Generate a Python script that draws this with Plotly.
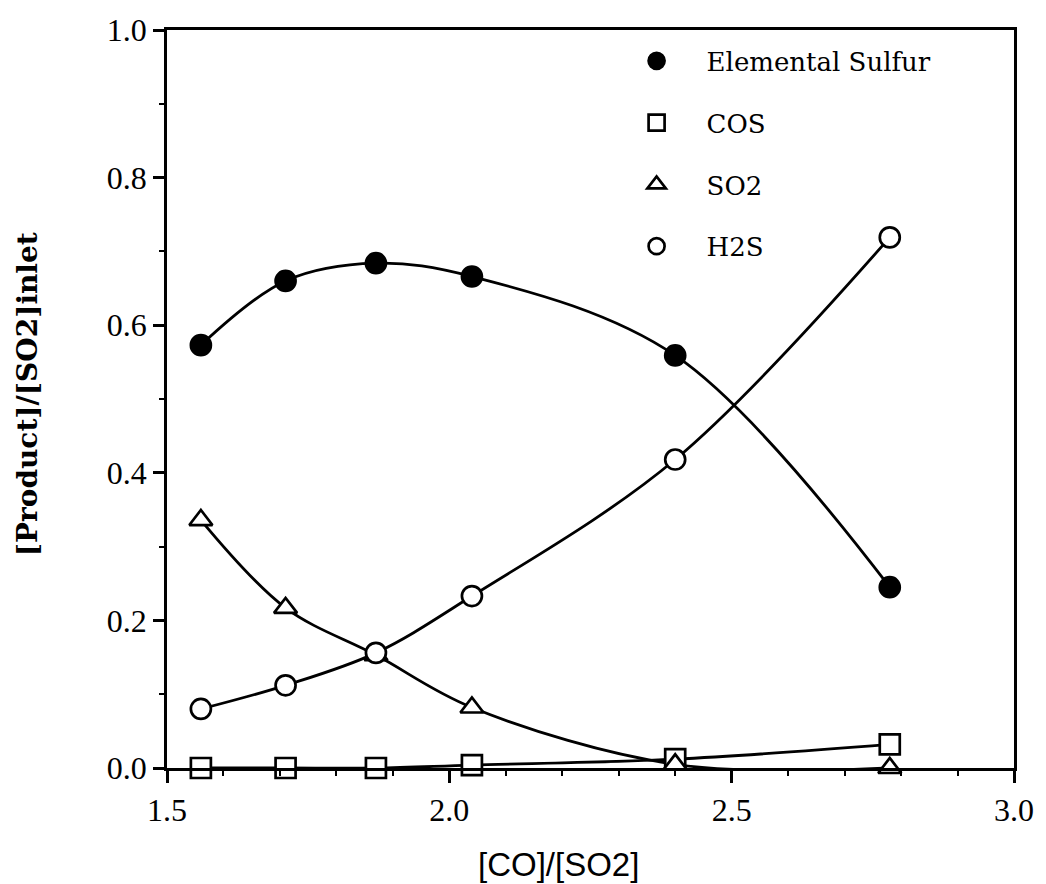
import plotly.graph_objects as go

# Data
co_so2 = [1.56, 1.71, 1.87, 2.04, 2.40, 2.78]
elemental_sulfur = [0.573, 0.660, 0.684, 0.666, 0.559, 0.245]
cos = [0.0, 0.0, 0.0, 0.004, 0.012, 0.032]
so2 = [0.336, 0.217, 0.153, 0.082, 0.005, 0.0]
h2s = [0.080, 0.112, 0.156, 0.233, 0.418, 0.719]

series_names = ["Elemental Sulfur", "COS", "SO2", "H2S"]
series_values = [elemental_sulfur, cos, so2, h2s]
symbols = ["circle", "square", "triangle-up", "circle"]
fills = ["black", "white", "white", "white"]

x_ticks = [1.5, 2.0, 2.5, 3.0]
y_ticks = [0.0, 0.2, 0.4, 0.6, 0.8, 1.0]

fig = go.Figure()

# smooth curves (no legend)
for name, vals in zip(series_names, series_values):
    fig.add_trace(go.Scatter(
        x=co_so2, y=vals, mode="lines",
        line=dict(color="black", width=2.8, shape="spline", smoothing=1.0),
        showlegend=False, hoverinfo="skip"))

# markers (with legend)
for i, (name, vals, sym, fc) in enumerate(zip(series_names, series_values, symbols, fills)):
    fig.add_trace(go.Scatter(
        x=co_so2, y=vals, mode="markers", name=name,
        legendgroup=f"g{i}",
        marker=dict(symbol=sym, size=20, color=fc,
                    line=dict(color="black", width=2.7)),
        cliponaxis=False))

serif = "Liberation Serif"

fig.update_layout(
    width=1046, height=884,
    paper_bgcolor="white", plot_bgcolor="white",
    margin=dict(l=167, r=29, t=24, b=116),
    showlegend=True,
    legend=dict(x=0.519, y=0.99, xanchor="left", yanchor="top",
                font=dict(family="DejaVu Serif", size=26, color="black"),
                bgcolor="rgba(0,0,0,0)", tracegroupgap=25,
                traceorder="grouped", itemsizing="trace", itemwidth=90),
    xaxis=dict(range=[1.5, 3.0], tickvals=x_ticks, ticktext=[f"{v:.1f}" for v in x_ticks],
               showgrid=False, zeroline=False,
               showline=True, linecolor="black", linewidth=2.8, mirror=True,
               ticks="outside", ticklen=12, tickwidth=2.5, tickcolor="black",
               minor=dict(dtick=0.1, ticks="outside", ticklen=5, tickwidth=2, tickcolor="black", showgrid=False),
               tickfont=dict(family=serif, size=32, color="black"),
               ticklabeloverflow="allow"),
    yaxis=dict(range=[0, 1.0], tickvals=y_ticks, ticktext=[f"{v:.1f}" for v in y_ticks],
               showgrid=False, zeroline=False,
               showline=True, linecolor="black", linewidth=2.8, mirror=True,
               ticks="outside", ticklen=11, tickwidth=2.5, tickcolor="black",
               minor=dict(dtick=0.1, ticks="outside", ticklen=5, tickwidth=2, tickcolor="black", showgrid=False),
               tickfont=dict(family=serif, size=32, color="black"),
               ticklabeloverflow="allow"),
    annotations=[
        dict(text="[CO]/[SO2]", xref="paper", yref="paper", x=0.4624, y=-0.1304,
             xanchor="center", yanchor="middle", showarrow=False,
             font=dict(family="Liberation Sans", size=33, color="black")),
        dict(text="<b>[Product]/[SO2]inlet</b>", xref="paper", yref="paper", x=-0.1647, y=0.507,
             xanchor="center", yanchor="middle", textangle=-90, showarrow=False,
             font=dict(family="DejaVu Serif", size=28, color="black")),
    ],
)

# remove the default page margin so the figure fills the window exactly
fig.write_html("out.html",
               config={"displayModeBar": False},
               post_script="document.body.style.margin='0';document.body.style.overflow='hidden';")
